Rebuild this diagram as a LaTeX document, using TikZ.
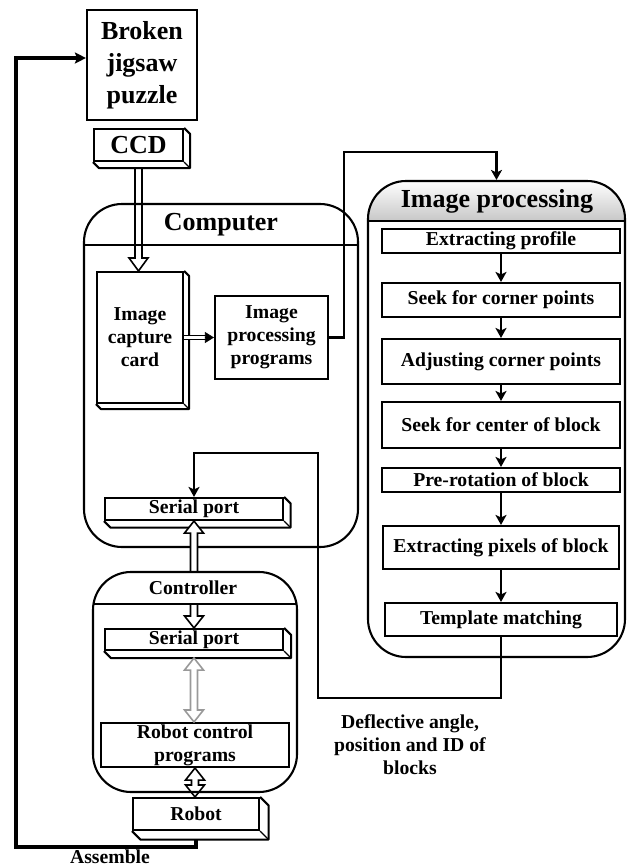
\documentclass[tikz,border=0pt]{standalone}
\usepackage{fontspec}
\setmainfont{Liberation Serif}
\usetikzlibrary{arrows.meta,calc}
\newcommand\BigTxt{\fontsize{26}{32}\selectfont\bfseries}
\newcommand\SmTxt{\fontsize{19.7}{23}\selectfont\bfseries}
\newcommand\slabdepth[2]{%
  \draw[boxline, line join=round] (#1.north east) -- ++(#2,#2) -- ($(#1.south east)+(#2,#2)$) -- ($(#1.south west)+(#2,#2)$) -- (#1.south west);
  \draw[line width=1.2pt] (#1.south east) -- ++(#2,#2);}
\newcommand\downblock[3][]{%
  \draw[blockarr,#1] let \p1=(#2), \p2=(#3) in
    (\x1-3.5pt,\y1) -- (\x1-3.5pt,\y2+13pt) -- (\x1-9.5pt,\y2+13pt) -- (\x1,\y2)
    -- (\x1+9.5pt,\y2+13pt) -- (\x1+3.5pt,\y2+13pt) -- (\x1+3.5pt,\y1);}
\newcommand\bidirblock[3][]{%
  \draw[blockarr,fill=white,#1] let \p1=(#2), \p2=(#3) in
    (\x1,\y1) -- (\x1-9.5pt,\y1-12pt) -- (\x1-3.5pt,\y1-12pt) -- (\x1-3.5pt,\y2+12pt)
    -- (\x1-9.5pt,\y2+12pt) -- (\x1,\y2) -- (\x1+9.5pt,\y2+12pt) -- (\x1+3.5pt,\y2+12pt)
    -- (\x1+3.5pt,\y1-12pt) -- (\x1+9.5pt,\y1-12pt) -- cycle;}
\begin{document}
\begin{tikzpicture}[x=1pt,y=-1pt,
  boxline/.style={line width=2.1pt},
  box/.style={draw, boxline, inner sep=0pt, align=center},
  bigbox/.style={box, font=\BigTxt},
  smbox/.style={box, font=\SmTxt},
  container/.style={draw, line width=2.1pt, rounded corners=38pt, inner sep=0pt},
  bigt/.style={font=\BigTxt, inner sep=0pt},
  smt/.style={font=\SmTxt, inner sep=0pt, align=center},
  arr/.style={line width=2.5pt, -{Stealth[length=10pt,width=11pt,inset=2.5pt]}},
  blockarr/.style={line width=1.6pt, line join=miter},
  fbline/.style={line width=3.2pt, line join=miter},
]
\useasboundingbox (0,0) rectangle (627,868);

% image processing header shading
\begin{scope}
  \clip[rounded corners=38pt] (368,181) rectangle (625,657);
  \shade[top color=white, bottom color=black!22] (368,181) rectangle (625,221);
\end{scope}

% containers
\node[container, minimum width=274pt, minimum height=343pt] (comp) at (221,375.5) {};
\node[container, minimum width=257pt, minimum height=476pt] (ip) at (496.5,419) {};
\node[inner sep=0pt, outer sep=0pt, minimum width=204pt, minimum height=220pt] (ctrl) at (195,682) {};
\coordinate (comph) at (0,245);
\coordinate (iph) at (0,221);
\coordinate (ctrlh) at (0,604);
\draw[line width=2.1pt] (comp.west |- comph) -- (comp.east |- comph);
\draw[line width=2.1pt] (ip.west |- iph) -- (ip.east |- iph);
\node[bigt] (comptitle) at (221,225) {Computer};
\node[bigt] (iptitle) at (497,201) {Image processing};

% top part
\node[bigbox, minimum width=110pt, minimum height=110pt] (broken) at (142,65) {Broken\\jigsaw\\puzzle};
\node[bigbox, minimum width=89pt, minimum height=32pt] (ccd) at (138.5,145) {CCD};
\slabdepth{ccd}{6}

% computer contents
\node[smbox, minimum width=86pt, minimum height=131pt] (card) at (140,337.5) {Image\\capture\\card};
\slabdepth{card}{5}
\node[smbox, minimum width=113pt, minimum height=83pt] (ipp) at (271.5,337.5) {Image\\processing\\programs};
\node[smbox, minimum width=178pt, minimum height=22pt] (sp1) at (194,509) {Serial port};
\slabdepth{sp1}{6.5}

% image processing contents
\node[smbox, minimum width=238pt, minimum height=24pt] (ep) at (501,241) {Extracting profile};
\node[smbox, minimum width=238pt, minimum height=34pt] (scp) at (501,300) {Seek for corner points};
\node[smbox, minimum width=238pt, minimum height=45pt] (acp) at (501,361.5) {Adjusting corner points};
\node[smbox, minimum width=238pt, minimum height=46pt] (scb) at (501,425) {Seek for center of block};
\node[smbox, minimum width=238pt, minimum height=24pt] (prb) at (501,480) {Pre-rotation of block};
\node[smbox, minimum width=236pt, minimum height=43pt] (epb) at (501,547.5) {Extracting pixels of block};
\node[smbox, minimum width=232pt, minimum height=33pt] (tm) at (501,619.5) {Template matching};

% controller contents
\node[smbox, minimum width=178pt, minimum height=21pt] (sp2) at (194,639.5) {Serial port};
\slabdepth{sp2}{7}
\node[smbox, minimum width=188pt, minimum height=44pt] (rcp) at (195,745) {Robot control\\programs};
\node[smbox, minimum width=126pt, minimum height=32pt] (robot) at (196,814) {Robot};
\slabdepth{robot}{8.5}

% labels
\node[smt] (defl) at (410,745) {Deflective angle,\\position and ID of\\blocks};
\node[smt, anchor=base] (asm) at (110,863) {Assemble};

% chain arrows
\draw[arr] (ep.south) -- (scp.north);
\draw[arr] (scp.south) -- (acp.north);
\draw[arr] (acp.south) -- (scb.north);
\draw[arr] (scb.south) -- (prb.north);
\draw[arr] (prb.south) -- (epb.north);
\draw[arr] (epb.south) -- (tm.north);

% ipp -> image processing
\coordinate (ipc1) at (344,152);
\draw[arr] (ipp.east) -| (ipc1) -| (ip.north);

% template matching -> serial port
\coordinate (fb1) at (318,698);
\coordinate (fb2) at (318,453);
\draw[arr] (tm.south) |- (fb1) -- (fb2) -| (sp1.north);

% card -> ipp (double line, filled head)
\draw[line width=1.2pt, double distance=2.2pt, shorten >=7pt] (card.east) -- (ipp.west);
\draw[line width=0.6pt, -{Triangle[length=9pt,width=11pt]}] ($(ipp.west)+(-9,0)$) -- (ipp.west);

% block arrows
\downblock{$(ccd.south)+(0,6)$}{card.north}
\bidirblock{sp1.south}{sp2.north}
\bidirblock[draw=black!40]{$(sp2.south)+(0,7)$}{rcp.north}
\bidirblock{rcp.south}{robot.north}

% controller outline and header drawn over the arrow shaft
\begin{scope}
  \clip[rounded corners=38pt] (ctrl.south west) rectangle (ctrl.north east);
  \fill[white] (ctrl.north west) rectangle (ctrl.east |- ctrlh);
\end{scope}
\draw[line width=2.1pt, rounded corners=38pt] (ctrl.south west) rectangle (ctrl.north east);
\draw[line width=2.1pt] (ctrl.west |- ctrlh) -- (ctrl.east |- ctrlh);
\node[smt] (ctrltitle) at (193,588) {Controller};

% feedback
\coordinate (fbb) at (16,847);
\coordinate (fbt) at (16,58);
\draw[fbline, -{Stealth[length=11pt,width=11pt,inset=2pt]}] ($(robot.south)+(0,8.5)$) |- (fbb) -- (fbt) -- (fbt -| broken.west);
\end{tikzpicture}
\end{document}
